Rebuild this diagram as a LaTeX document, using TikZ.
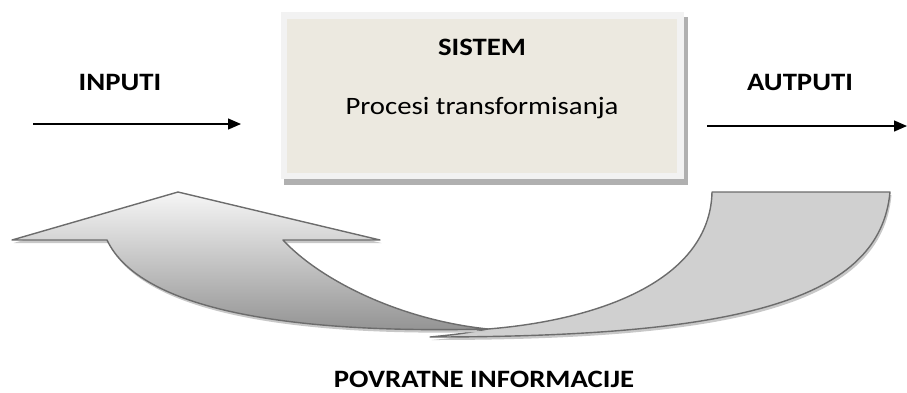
\documentclass[tikz,border=0pt]{standalone}
\usepackage{fontspec}
\setmainfont[FakeStretch=1.15]{Carlito}
\usetikzlibrary{arrows.meta}
\definecolor{beige}{RGB}{236,233,224}
\definecolor{frameg}{RGB}{242,242,242}
\definecolor{boxshadow}{RGB}{176,176,176}
\definecolor{edgeg}{RGB}{108,108,108}
\definecolor{backg}{RGB}{208,208,208}
\definecolor{fronttop}{RGB}{246,246,246}
\definecolor{frontbot}{RGB}{145,145,145}
\definecolor{softshadow}{RGB}{200,200,200}
\tikzset{
  lbl/.style={anchor=base, font=\fontsize{25}{30}\selectfont\bfseries},
  plain/.style={anchor=base, font=\fontsize{25}{30}\selectfont},
  flow/.style={line width=1.3pt, -{Triangle[length=13pt,width=11pt]}},
  ribbon/.style={draw=edgeg, line width=1.4pt, line join=round},
  ribshadow/.style={fill=softshadow, shift={(1.5,3)}}
}
\begin{document}
\begin{tikzpicture}[x=1pt,y=-1pt]
\useasboundingbox (0,0) rectangle (907,392);
% system box
\fill[boxshadow] (284,17) rectangle (688,185);
\fill[frameg] (281,12) rectangle (684,179);
\node[fill=beige, minimum width=390pt, minimum height=154pt, anchor=north west, inner sep=0pt] (sys) at (287,19) {};
\node[lbl] (sistem) at (482,55) {SISTEM};
\node[plain] (proc) at (482,114) {Procesi transformisanja};
% labels
\node[lbl] (inputi) at (120,90) {INPUTI};
\node[lbl] (autputi) at (800,90) {AUTPUTI};
\node[lbl] (povrat) at (484,387) {POVRATNE INFORMACIJE};
% arrows
\coordinate (inA) at (33,124);
\coordinate (inB) at (241,124);
\coordinate (outA) at (707,126);
\coordinate (outB) at (907,126);
\draw[flow] (inA) -- (inB);
\draw[flow] (outA) -- (outB);
% feedback ribbon: back part
\fill[ribshadow] (712,192) -- (890,192) .. controls (880,300) and (740,337) .. (430,337)
  .. controls (460,334) .. (488,329) .. controls (600,320) and (710,280) .. (712,192) -- cycle;
\path[ribbon, fill=backg] (712,192) -- (890,192) .. controls (880,300) and (740,337) .. (430,337)
  .. controls (460,334) .. (488,329) .. controls (600,320) and (710,280) .. (712,192) -- cycle;
% front part with arrow head
\fill[ribshadow] (178,192) -- (380,240) -- (283,240) .. controls (320,280) and (400,320) .. (488,329)
  .. controls (290,334) and (140,310) .. (107,240) -- (12,240) -- cycle;
\path[ribbon, top color=fronttop, bottom color=frontbot] (178,192) -- (380,240) -- (283,240)
  .. controls (320,280) and (400,320) .. (488,329)
  .. controls (290,334) and (140,310) .. (107,240) -- (12,240) -- cycle;
\end{tikzpicture}
\end{document}
